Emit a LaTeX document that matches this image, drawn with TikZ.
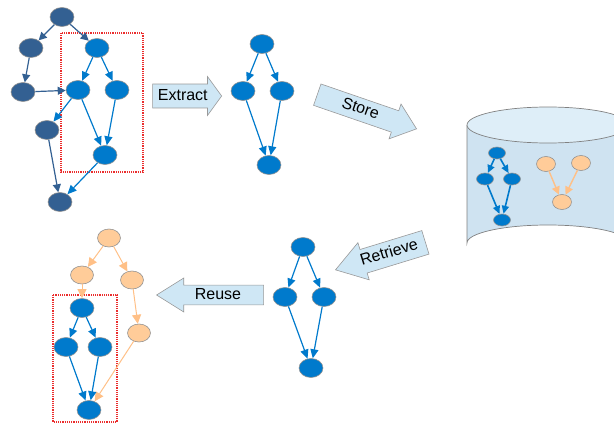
\documentclass[tikz,border=0pt]{standalone}
\usepackage{fontspec}
\setmainfont{Liberation Sans}
\usepackage{tikz}
\usetikzlibrary{arrows.meta, shapes.geometric, shapes.arrows, positioning}

\definecolor{darknode}{RGB}{51,96,146}
\definecolor{bluenode}{RGB}{0,122,204}
\definecolor{orangenode}{RGB}{255,204,153}
\definecolor{orangeline}{RGB}{255,192,135}
\definecolor{arrowfill}{RGB}{207,231,245}
\definecolor{dbside}{RGB}{207,227,241}
\definecolor{dbtop}{RGB}{222,238,248}
\definecolor{boxred}{RGB}{235,45,45}

\begin{document}
\begin{tikzpicture}[x=1pt,y=-1pt,
	vert/.style={ellipse, draw=gray!85, line width=0.6pt, inner sep=0pt, minimum width=24pt, minimum height=19pt},
	dv/.style={vert, fill=darknode},
	bv/.style={vert, fill=bluenode},
	ov/.style={vert, fill=orangenode, minimum width=23pt, minimum height=18pt},
	sbv/.style={vert, fill=bluenode, minimum width=17pt, minimum height=12pt},
	sov/.style={vert, fill=orangenode, minimum width=19pt, minimum height=15pt},
	dedge/.style={-{Triangle[length=8pt,width=8pt]}, draw=darknode, fill=darknode, line width=1.2pt},
	bedge/.style={-{Triangle[length=9pt,width=8pt]}, draw=bluenode, fill=bluenode, line width=1.2pt},
	oedge/.style={-{Triangle[length=9pt,width=9pt]}, draw=orangeline, fill=orangeline, line width=1pt},
	sbedge/.style={-{Triangle[length=8pt,width=7pt]}, draw=bluenode, fill=bluenode, line width=1.6pt},
	soedge/.style={-{Triangle[length=8pt,width=8pt]}, draw=orangeline, fill=orangeline, line width=1.4pt},
	step arrow/.style={single arrow, draw=gray!80, fill=arrowfill, line width=0.6pt, font=\fontsize{16}{18}\selectfont, text height=11.5pt, text depth=3.5pt, single arrow head indent=0pt},
	selected/.style={draw=boxred, line width=1.4pt, dash pattern=on 1.2pt off 1pt}
	]
	\useasboundingbox (0,0) rectangle (614,423);
	
	% database
	\fill[dbside] (467,125) -- (467,243) arc[start angle=180, end angle=360, x radius=81, y radius=18] -- (629,125) -- cycle;
	\draw[gray, line width=0.7pt] (467,125) -- (467,243) arc[start angle=180, end angle=360, x radius=81, y radius=18];
	\draw[gray, line width=0.7pt, fill=dbtop] (548,125) ellipse[x radius=81, y radius=18];
	
	% top left 
	\node[dv] (a1) at (62,17) {};
	\node[dv] (a2) at (31,48) {};
	\node[bv] (a3) at (97,48) {};
	\node[dv] (a4) at (23,92) {};
	\node[bv] (a5) at (78,90) {};
	\node[bv] (a6) at (117,90) {};
	\node[dv] (a7) at (47,130) {};
	\node[bv] (a8) at (105,155) {};
	\node[dv] (a9) at (60,202) {};
	\draw[selected] (61,33) rectangle (143,172);
	
	% extracted
	\node[bv] (b1) at (262,44) {};
	\node[bv] (b2) at (243,91) {};
	\node[bv] (b3) at (282,91) {};
	\node[bv] (b4) at (269,165) {};
	
	% stored
	\node[sbv] (c1) at (497,153) {};
	\node[sbv] (c2) at (485,179) {};
	\node[sbv] (c3) at (512,179) {};
	\node[sbv] (c4) at (502,220) {};
	\node[sov] (d1) at (546,164) {};
	\node[sov] (d2) at (581,163) {};
	\node[sov] (d3) at (562,202) {};
	
	% retrieved
	\node[bv] (e1) at (303,247) {};
	\node[bv] (e2) at (285,297) {};
	\node[bv] (e3) at (324,297) {};
	\node[bv] (e4) at (311,368) {};
	
	% bottom left
	\node[ov] (f1) at (109,238) {};
	\node[ov] (f2) at (82,275) {};
	\node[ov] (f3) at (132,280) {};
	\node[ov] (f4) at (139,333) {};
	\node[bv] (g1) at (82,308) {};
	\node[bv] (g2) at (66,347) {};
	\node[bv] (g3) at (100,347) {};
	\node[bv] (g4) at (89,410) {};
	\draw[selected] (53,295) rectangle (117,422);
	
	% steps
	\node[step arrow, anchor=tip, minimum height=69pt, minimum width=39pt, single arrow tip angle=108, inner ysep=3.5pt] (extract) at (222,96) {Extract};
	\node[step arrow, anchor=tip, rotate=-19, minimum height=105pt, minimum width=36pt, single arrow tip angle=78, inner ysep=3.5pt] (store) at (417,129) {Store};
	\node[step arrow, anchor=tip, rotate=17, shape border rotate=180, minimum height=94pt, minimum width=34pt, single arrow tip angle=67, inner ysep=4.5pt] (retrieve) at (335,270) {Retrieve};
	\node[step arrow, anchor=tip, shape border rotate=180, minimum height=107pt, minimum width=34pt, single arrow tip angle=64, inner ysep=2pt] (reuse) at (156,295) {Reuse};
	
	% edges
	\path[dedge] (a1) edge (a2)
	(a1) edge (a3)
	(a2) edge (a4)
	(a4) edge (a5)
	(a7) edge (a9);
	\path[bedge] (a3) edge (a5)
	(a3) edge (a6)
	(a5) edge (a7)
	(a5) edge (a8)
	(a6) edge (a8)
	(a8) edge (a9);
	
	\path[bedge] (b1) edge (b2)
	(b1) edge (b3)
	(b2) edge (b4)
	(b3) edge (b4);
	
	\path[sbedge] (c1) edge (c2)
	(c1) edge (c3)
	(c2) edge (c4)
	(c3) edge (c4);
	\path[soedge] (d1) edge (d3)
	(d2) edge (d3);
	
	\path[bedge] (e1) edge (e2)
	(e1) edge (e3)
	(e2) edge (e4)
	(e3) edge (e4);
	
	\path[oedge] (f1) edge (f2)
	(f1) edge (f3)
	(f2) edge (g1)
	(f3) edge (f4)
	(f4) edge (g4);
	\path[bedge] (g1) edge (g2)
	(g1) edge (g3)
	(g2) edge (g4)
	(g3) edge (g4);
\end{tikzpicture}
\end{document}
